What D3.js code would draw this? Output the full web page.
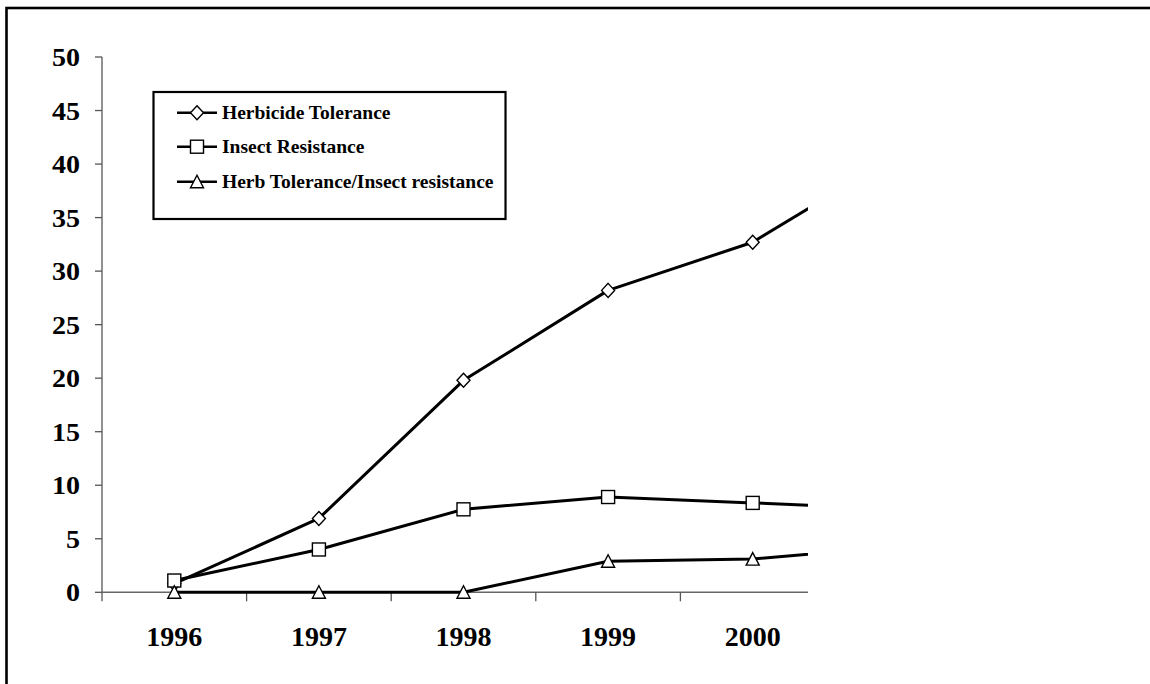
<!DOCTYPE html>
<html><head><meta charset="utf-8">
<script src="https://cdn.jsdelivr.net/npm/d3@7"></script>
<style>html,body{margin:0;padding:0;background:#fff;overflow:hidden}</style>
</head><body>
<svg id="chart" width="1150" height="684"></svg>
<script>
const years = ["1996","1997","1998","1999","2000","2001"];
const herbicideTolerance = [0.8, 6.9, 19.8, 28.2, 32.7, 40.9];
const insectResistance = [1.1, 4.0, 7.75, 8.9, 8.35, 7.8];
const herbInsectStacked = [0, 0, 0, 2.9, 3.1, 4.3];
const yTicks = [0,5,10,15,20,25,30,35,40,45,50];
const seriesNames = ["Herbicide Tolerance","Insect Resistance","Herb Tolerance/Insect resistance"];
const seriesMarkers = ["diamond","square","triangle"];

const series = [herbicideTolerance, insectResistance, herbInsectStacked].map((vals,i)=>({
  name: seriesNames[i], marker: seriesMarkers[i],
  points: vals.map((v,j)=>({year: years[j], value: v}))
}));

const svg = d3.select("#chart");
const font = "'Liberation Serif','Times New Roman',serif";

// outer frame
svg.append("rect").attr("x",6.5).attr("y",8).attr("width",1300).attr("height",900)
  .attr("fill","none").attr("stroke","#000").attr("stroke-width",2.6);

const left = 102, clipRight = 808, y0 = 592.3, y50 = 57;
const x = d3.scaleBand().domain(years).range([left, left + 144.6*years.length]).paddingInner(0).paddingOuter(0);
const y = d3.scaleLinear().domain([0,50]).range([y0, y50]);
const cx = d => x(d) + x.bandwidth()/2;

svg.append("defs").append("clipPath").attr("id","plotclip")
  .append("rect").attr("x",0).attr("y",0).attr("width",clipRight).attr("height",684);

// Y axis
const yAxis = svg.append("g");
yAxis.append("line").attr("x1",left).attr("x2",left).attr("y1",y(50)).attr("y2",y0+9)
  .attr("stroke","#555").attr("stroke-width",1.3);
yTicks.forEach(t=>{
  yAxis.append("line").attr("x1",left-7).attr("x2",left).attr("y1",y(t)).attr("y2",y(t))
    .attr("stroke","#555").attr("stroke-width",1.3);
  yAxis.append("text").attr("transform",`translate(80,${y(t)+9}) scale(1.1,1)`).attr("text-anchor","end")
    .attr("font-family",font).attr("font-weight","bold").attr("font-size",25.5).text(t);
});

// X axis (clipped)
const xg = svg.append("g").attr("clip-path","url(#plotclip)");
xg.append("line").attr("x1",left).attr("x2",left+144.6*years.length).attr("y1",y0).attr("y2",y0)
  .attr("stroke","#666").attr("stroke-width",1.5);
years.forEach((yr,i)=>{
  if(i>0) xg.append("line").attr("x1",x(yr)).attr("x2",x(yr)).attr("y1",y0).attr("y2",y0+9)
    .attr("stroke","#555").attr("stroke-width",1.3);
  xg.append("text").attr("x",cx(yr)).attr("y",646).attr("text-anchor","middle")
    .attr("font-family",font).attr("font-weight","bold").attr("font-size",28).text(yr);
});

// markers
function marker(g, type, px, py){
  if(type==="diamond"){
    g.append("path").attr("d",`M${px},${py-7}L${px+6.5},${py}L${px},${py+7}L${px-6.5},${py}Z`)
      .attr("fill","#fff").attr("stroke","#000").attr("stroke-width",1.4);
  } else if(type==="square"){
    g.append("rect").attr("x",px-6.5).attr("y",py-6.5).attr("width",13).attr("height",13)
      .attr("fill","#fff").attr("stroke","#000").attr("stroke-width",1.4);
  } else {
    g.append("path").attr("d",`M${px},${py-6.5}L${px+6.5},${py+6}L${px-6.5},${py+6}Z`)
      .attr("fill","#fff").attr("stroke","#000").attr("stroke-width",1.4);
  }
}

const plot = svg.append("g").attr("clip-path","url(#plotclip)");
const line = d3.line().x(d=>cx(d.year)).y(d=>y(d.value));
series.forEach(s=>{
  plot.append("path").datum(s.points).attr("d",line).attr("fill","none")
    .attr("stroke","#000").attr("stroke-width",3).attr("stroke-linejoin","round");
});
series.forEach(s=>{
  s.points.forEach(p=>marker(plot, s.marker, cx(p.year), y(p.value)));
});

// legend
const lg = svg.append("g");
const box = lg.append("rect").attr("x",153.5).attr("y",92).attr("height",127)
  .attr("fill","#fff").attr("stroke","#000").attr("stroke-width",2.2);
const rows = [112.7, 146.7, 181.7];
let maxRight = 0;
series.forEach((s,i)=>{
  const ry = rows[i];
  lg.append("line").attr("x1",177).attr("x2",217).attr("y1",ry).attr("y2",ry)
    .attr("stroke","#000").attr("stroke-width",2.6);
  marker(lg, s.marker, 197, ry);
  const t = lg.append("text").attr("x",222).attr("y",ry+6).attr("font-family",font)
    .attr("font-weight","bold").attr("font-size",19.5).text(s.name);
  maxRight = Math.max(maxRight, 222 + t.node().getComputedTextLength());
});
box.attr("width", maxRight + 12 - 153.5);
</script>
</body></html>
